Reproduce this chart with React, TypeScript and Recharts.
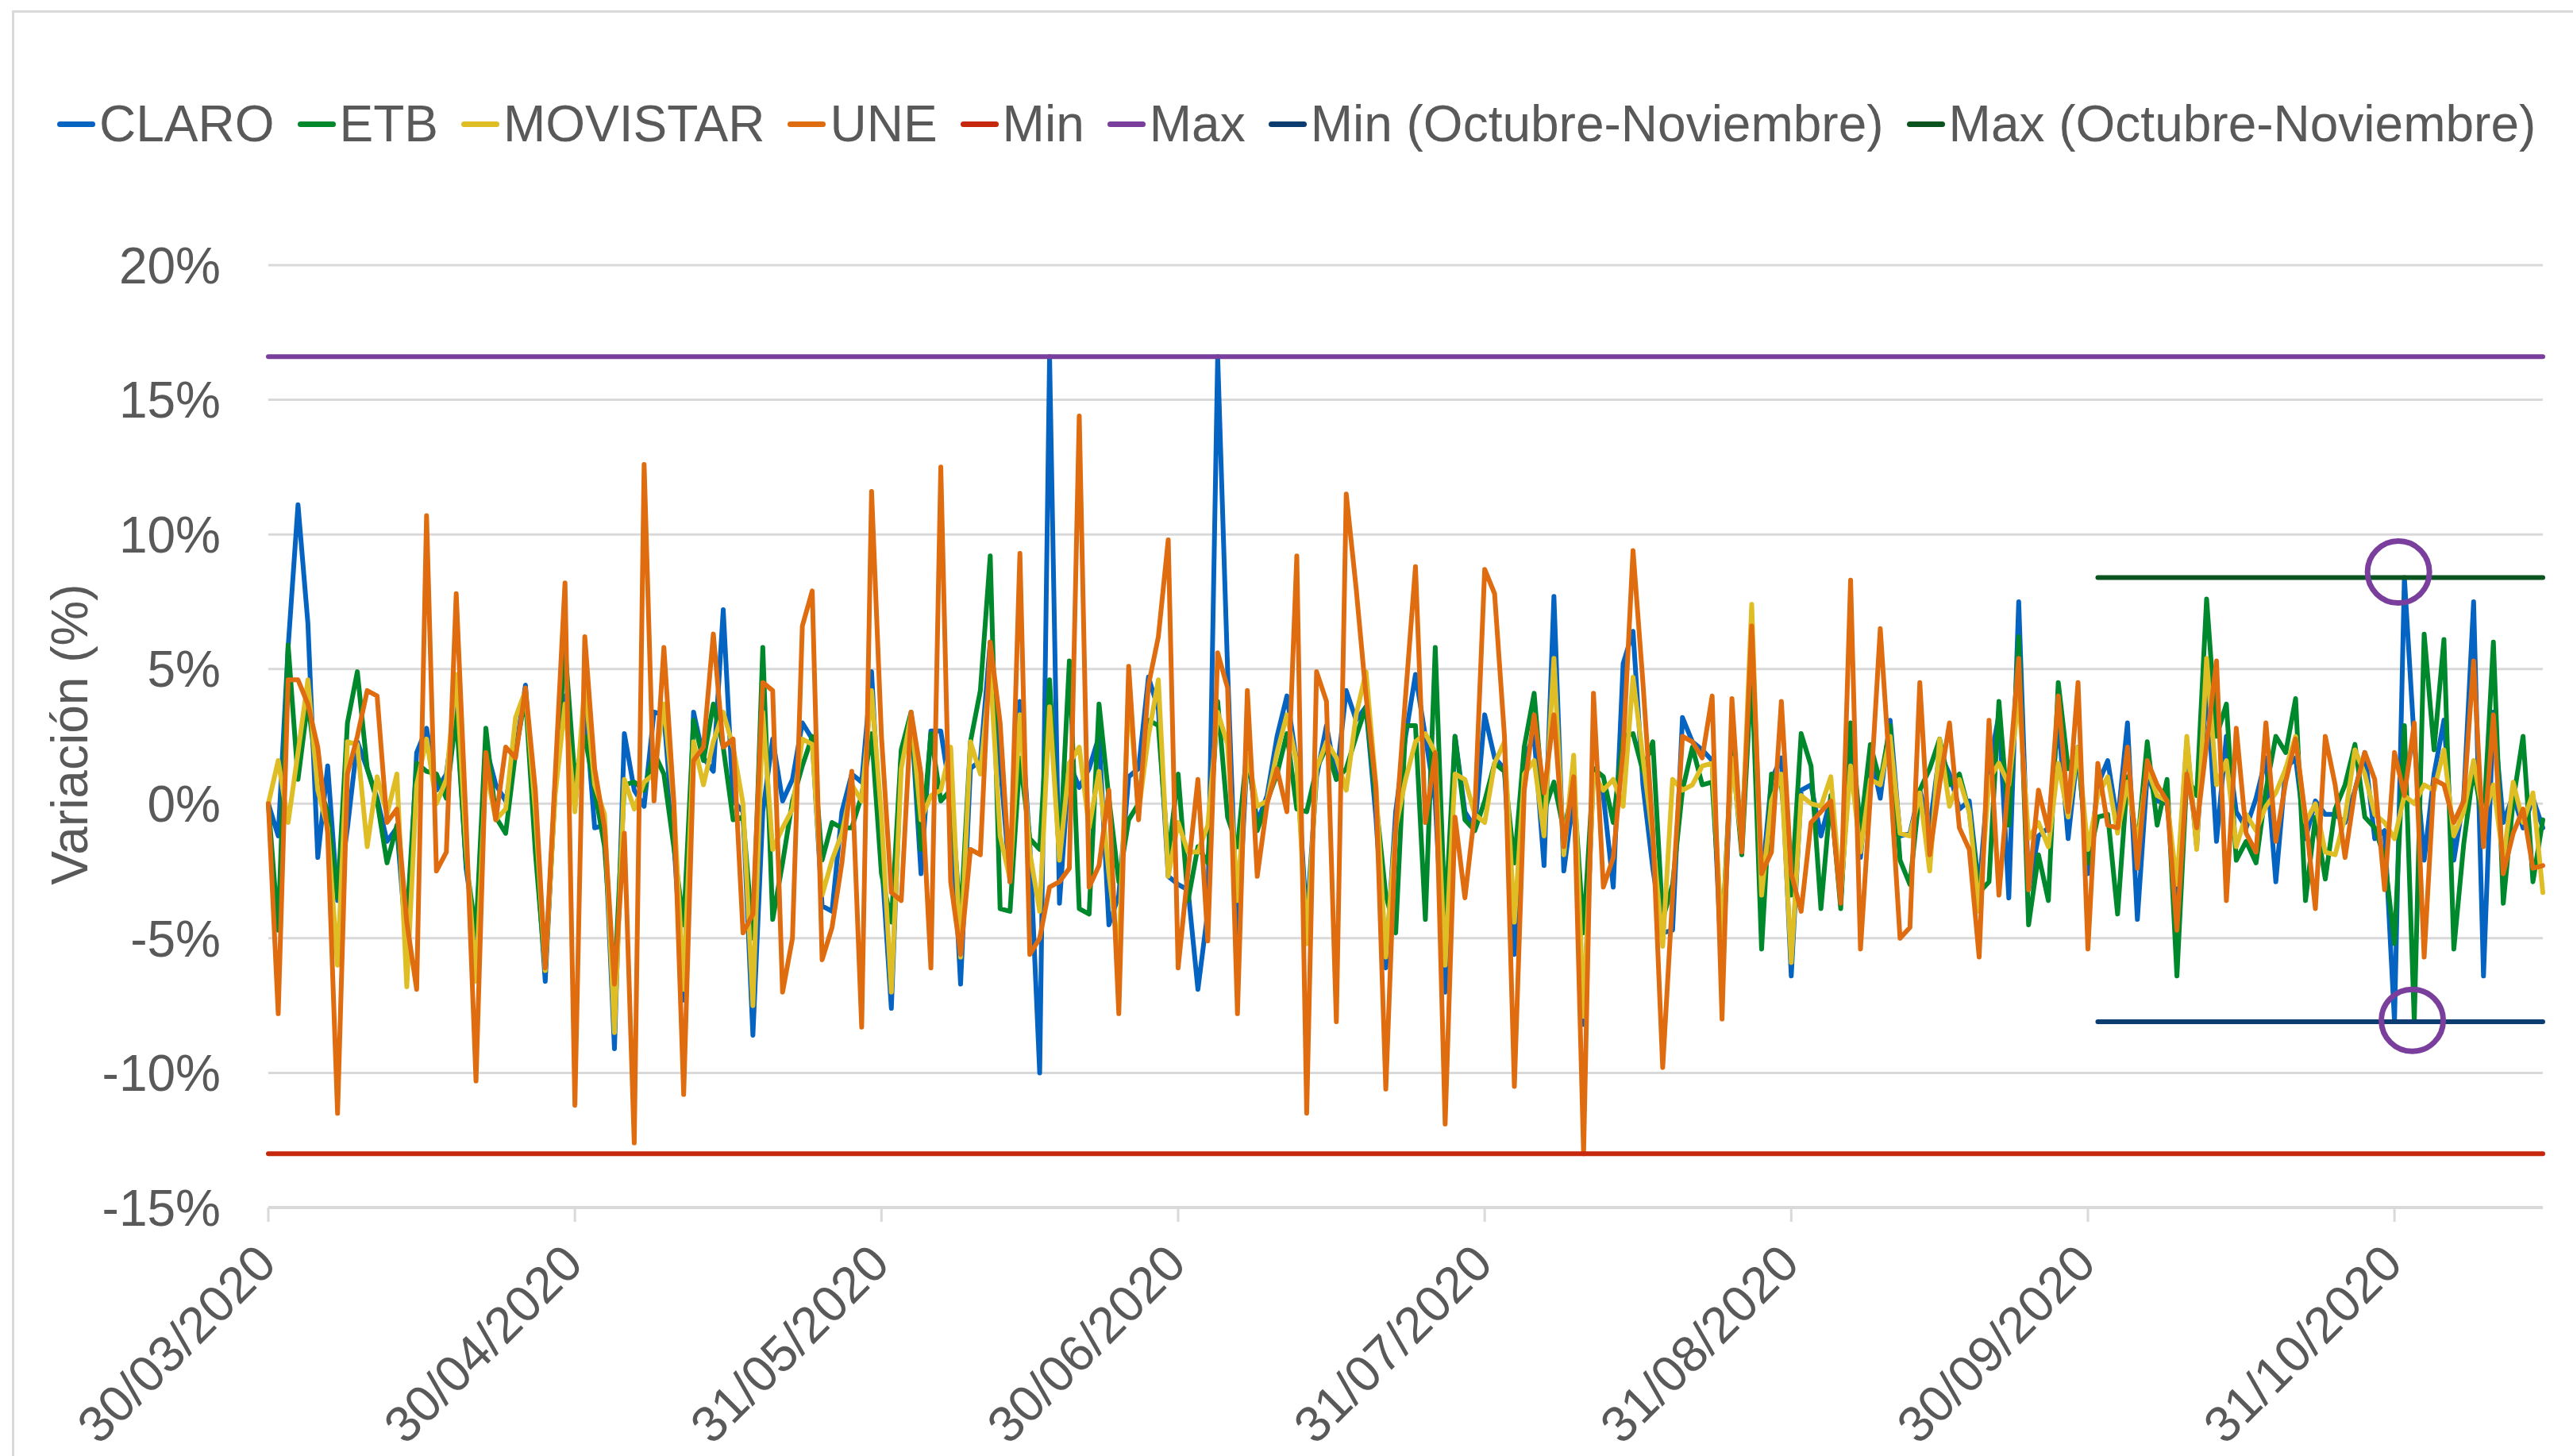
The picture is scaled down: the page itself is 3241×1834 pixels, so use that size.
import React from 'react';
import { LineChart, Line, XAxis, YAxis, CartesianGrid, Legend, ReferenceDot } from 'recharts';

const FONT = '"Liberation Sans", Arial, Helvetica, sans-serif';
const TEXT = '#595959';
const GRID = '#d9d9d9';

// x axis: one point per day starting 30/03/2020
const TICK_DAYS = [0, 31, 62, 92, 123, 154, 184, 215];
const TICK_LABELS = ['30/03/2020', '30/04/2020', '31/05/2020', '30/06/2020', '31/07/2020', '31/08/2020', '30/09/2020', '31/10/2020'];
const Y_TICKS = [-15, -10, -5, 0, 5, 10, 15, 20];

const CLARO = [
  0, -1.2, 5.8, 11.1, 6.7, -2.0, 1.4, -3.6, -0.9, 2.3,
  1.3, 0.2, -1.4, -0.9, -5.4, 1.9, 2.8, 0.5, 1.1, 3.8,
  -2.4, -5.0, 2.1, 0.7, 0.1, 1.9, 4.4, -1.1, -6.6, 0.7,
  4.0, -0.1, 3.8, -0.9, -0.8, -9.1, 2.6, 0.5, -0.1, 3.4,
  3.3, -1.3, -7.3, 3.4, 1.7, 1.2, 7.2, 0.1, -0.3, -8.6,
  -0.3, 2.4, 0.1, 0.9, 3.0, 2.4, -3.8, -4.0, -0.3, 1.1,
  0.8, 4.9, -2.0, -7.6, 1.9, 3.3, -2.6, 2.7, 2.7, 0.3,
  -6.7, 1.3, 1.6, 6.0, 1.5, -2.9, 3.8, -1.5, -10.0, 16.6,
  -3.7, 1.5, 0.6, 1.3, 2.5, -4.5, -3.4, 1.0, 1.3, 4.7,
  3.5, -2.7, -3.0, -3.2, -6.9, -4.0, 16.6, 5.0, -5.0, 1.9,
  -0.7, 0.3, 2.5, 4.0, 1.5, -4.4, 1.0, 2.9, 0.9, 4.2,
  3.1, 3.6, -0.5, -6.1, -0.3, 2.5, 4.8, 2.5, 0.1, -7.0,
  2.5, -0.3, -0.9, 3.3, 1.7, 1.3, -5.6, 1.7, 2.5, -2.3,
  7.7, -2.5, 0.3, -8.2, 1.3, 0.3, -3.1, 5.2, 6.4, 0.7,
  -2.4, -4.8, -4.7, 3.2, 2.3, 2.0, 1.6, -6.5, 2.1, -1.1,
  5.8, -3.0, 0.9, 1.7, -6.4, 0.5, 0.7, -1.2, 0.2, -3.6,
  2.1, -2.0, 1.9, 0.2, 3.1, -1.2, -1.1, 0.5, -0.9, 1.9,
  1.1, -0.2, 0.1, -3.2, 1.3, 3.3, -3.5, 7.5, -3.2, -1.2,
  -0.9, 3.1, -1.3, 2.1, -2.6, 0.7, 1.6, -0.7, 3.0, -4.3,
  1.1, 0.1, 0, -3.4, 2.3, -1.6, 4.6, -1.4, 2.5, -0.3,
  -0.9, 0.2, 1.7, -2.9, 1.3, 1.7, -1.3, 0.1, -0.4, -0.4,
  -0.7, 0.5, 1.9, -1.3, -1.0, -8.1, 8.4, 2.3, -2.1, 1.1,
  3.1, -2.1, 0.2, 7.5, -6.4, 3.4, -0.7, 0.3, -0.9, 0.2,
  -0.9,
];

const ETB = [
  0, -4.7, 5.9, 0.9, 3.8, 0.8, -0.3, -3.5, 3.0, 4.9,
  1.3, 0.1, -2.2, -0.8, -4.4, 1.5, 1.2, 1.1, 0.2, 3.3,
  -2.2, -4.8, 2.8, -0.5, -1.1, 1.9, 4.0, -1.8, -6.2, 0.5,
  5.8, 0.9, 2.5, 0.5, -1.6, -6.7, 0.7, 0.8, 0.5, 1.9,
  1.1, -1.6, -4.5, 3.1, 1.6, 3.7, 2.1, -0.6, -0.5, -5.0,
  5.8, -4.3, -2.2, 0.1, 1.4, 2.5, -2.1, -0.7, -0.9, -0.9,
  0.3, 2.6, -2.6, -4.4, 2.0, 3.4, -1.7, 2.6, 0.1, 0.5,
  -4.4, 2.3, 4.2, 9.2, -3.9, -4.0, 1.7, -1.3, -1.7, 4.6,
  -2.1, 5.3, -3.9, -4.1, 3.7, 0.2, -2.9, -0.6, 0, 3.1,
  2.9, -2.0, 1.1, -3.6, -1.6, -2.2, 3.8, -0.5, -1.6, 2.1,
  -1.0, 0.1, 1.1, 2.6, -0.2, -0.3, 1.3, 2.1, 0.9, 1.3,
  2.5, 3.6, 0.1, -3.4, -4.8, 2.9, 2.9, -4.3, 5.8, -4.4,
  2.5, -0.6, -1.0, 0.1, 1.5, 1.2, -2.2, 2.1, 4.1, -0.3,
  0.8, -1.0, 0.7, -4.8, 1.3, 1.0, -0.7, 2.5, 2.6, 1.2,
  2.3, -4.3, -3.0, 0.5, 2.1, 0.7, 0.8, -5.0, 2.1, -1.9,
  5.0, -5.4, 1.1, 0.7, -3.4, 2.6, 1.4, -3.9, 0.3, -3.9,
  3.0, -1.0, 2.2, 0.8, 2.9, -2.1, -3.0, 0.5, 1.3, 2.4,
  0.7, 1.1, -0.3, -3.3, -2.9, 3.8, -0.8, 6.2, -4.5, -1.9,
  -3.6, 4.5, 1.3, 1.9, -2.2, -0.5, -0.4, -4.1, 1.0, -1.6,
  2.3, -0.8, 0.9, -6.4, 1.0, 0.3, 7.6, 2.5, 3.7, -2.1,
  -1.4, -2.2, 0.5, 2.5, 1.9, 3.9, -3.6, -0.5, -2.8, -0.2,
  0.7, 2.2, -0.5, -0.9, -2.0, -5.2, 2.9, -8.1, 6.3, 2.0,
  6.1, -5.4, -1.5, 1.3, -0.8, 6.0, -3.7, 0.1, 2.5, -2.9,
  -0.6,
];

const MOVISTAR = [
  0, 1.6, -0.7, 1.9, 4.6, 0.5, -0.9, -6.0, 2.3, 2.2,
  -1.6, 1.0, -0.4, 1.1, -6.8, 0.7, 2.4, 0, 0.9, 4.8,
  -1.6, -6.6, 1.3, -0.6, -0.2, 3.2, 4.2, -0.3, -6.2, 0.3,
  3.7, -0.3, 4.4, 0.7, -0.4, -8.5, 0.9, -0.2, 0.8, 1.1,
  3.7, 0, -6.9, 2.3, 0.7, 2.3, 3.4, 2.1, 0, -7.5,
  3.4, -1.7, -0.9, -0.2, 2.4, 2.2, -3.4, -2.1, -1.1, 0.7,
  0.1, 4.2, -0.5, -7.0, 1.3, 3.3, -0.6, 0.3, 0.5, 2.1,
  -5.7, 2.3, 1.1, 5.0, -1.2, -2.8, 3.3, -1.8, -4.0, 3.6,
  -2.1, 1.5, 2.1, -0.9, 1.2, -2.6, -5.6, 4.2, -0.3, 2.5,
  4.6, -2.7, -0.7, -1.8, -1.8, -0.8, 3.4, 2.2, -3.6, 1.9,
  -0.1, 0.1, 1.9, 3.3, 1.5, -5.2, 1.3, 2.3, 1.7, 0.5,
  3.3, 4.9, 0.7, -5.7, -0.9, 0.9, 2.3, 2.6, 1.9, -6.0,
  1.1, 0.9, -0.4, -0.7, 1.5, 2.3, -4.4, 1.1, 1.6, -1.2,
  5.4, -1.9, 1.8, -7.9, 1.1, 0.5, 0.9, -0.1, 4.7, 1.7,
  -1.3, -5.3, 0.9, 0.5, 0.7, 1.4, 1.5, -5.0, 1.7, -1.5,
  7.4, -3.4, 0.1, 1.1, -5.9, 0.3, 0, -0.1, 1.0, -3.4,
  1.4, -1.8, 0.9, 0.7, 2.5, -1.1, -1.2, 0.4, -2.5, 2.4,
  -0.1, 0.9, -0.3, -4.0, 0.9, 1.5, 0.7, 4.0, -1.3, -0.7,
  -1.6, 1.5, -0.5, 2.1, -1.7, 0.3, 1.0, -1.1, 0.8, -1.5,
  1.3, 0.3, 0.1, -3.0, 2.5, -1.7, 5.4, 0.7, 1.6, -1.6,
  -0.4, -1.0, -0.1, 0.4, 1.3, 2.5, -0.7, 0, -1.8, -1.9,
  -0.5, 2.0, 1.1, -0.4, -0.7, -1.3, 0.3, 0, 0.7, 0.5,
  2.0, -1.2, -0.3, 1.6, -0.5, 0.7, -2.1, 0.8, -0.7, 0.4,
  -3.3,
];

const UNE = [
  0, -7.8, 4.6, 4.6, 3.7, 2.1, -1.1, -11.5, 1.1, 2.5,
  4.2, 4.0, -0.7, -0.2, -4.4, -6.9, 10.7, -2.5, -1.8, 7.8,
  -0.7, -10.3, 1.9, -0.6, 2.1, 1.7, 4.3, 0.5, -6.1, 1.0,
  8.2, -11.2, 6.2, 1.3, -0.9, -6.7, -1.1, -12.6, 12.6, 0.1,
  5.8, 0.1, -10.8, 1.6, 2.1, 6.3, 2.1, 2.4, -4.8, -4.1,
  4.5, 4.2, -7.0, -5.0, 6.6, 7.9, -5.8, -4.6, -2.2, 1.2,
  -8.3, 11.6, 2.5, -3.3, -3.6, 3.4, 1.1, -6.1, 12.5, -2.9,
  -5.6, -1.7, -1.9, 6.0, 3.0, -2.9, 9.3, -5.6, -5.0, -3.1,
  -2.9, -2.4, 14.4, -3.1, -2.3, 0.5, -7.8, 5.1, -0.6, 4.4,
  6.2, 9.8, -6.1, -2.5, 0.9, -5.1, 5.6, 4.3, -7.8, 4.2,
  -2.7, 0, 1.3, -0.3, 9.2, -11.5, 4.9, 3.8, -8.1, 11.5,
  8.0, 4.0, 0.6, -10.6, -0.9, 4.0, 8.8, -0.7, 1.9, -11.9,
  -0.5, -3.5, -0.3, 8.7, 7.8, 2.5, -10.5, 0.5, 3.3, 0.4,
  3.3, -1.6, 1.0, -13.0, 4.1, -3.1, -2.0, 2.0, 9.4, 4.5,
  -1.0, -9.8, -3.4, 2.5, 2.3, 1.7, 4.0, -8.0, 3.9, -1.8,
  6.6, -2.6, -1.8, 3.8, -2.6, -4.0, -0.7, -0.3, 0.1, -3.7,
  8.3, -5.4, 0.3, 6.5, 1.0, -5.0, -4.6, 4.5, -1.9, 0.7,
  3.0, -0.9, -1.7, -5.7, 3.1, -3.4, 1.0, 5.4, -3.2, 0.5,
  -1.0, 4.0, -0.3, 4.5, -5.4, 1.5, -0.8, -0.9, 2.1, -2.4,
  1.6, 0.7, 0.1, -4.7, 1.1, -0.9, 2.2, 5.3, -3.6, 2.8,
  -1.1, -1.8, 3.0, -1.4, 0.8, 2.4, -0.5, -3.9, 2.5, 0.7,
  -2.0, 0.5, 1.9, 0.9, -3.2, 1.9, 0.3, 3.0, -5.7, 0.9,
  0.7, -0.7, 0.1, 5.3, -1.6, 3.3, -2.6, -1.1, -0.2, -2.4,
  -2.3,
];

// reference levels
const MIN_ALL = -13.0;
const MAX_ALL = 16.6;
const MIN_OCT = -8.1;
const MAX_OCT = 8.4;
const OCT_START = 185;

// highlighted points (purple circles)
const CIRCLES = [
  { x: 215.4, y: 8.6 },
  { x: 216.8, y: -8.05 },
];

const SERIES = [
  { key: 'claro', name: 'CLARO', color: '#0563c1' },
  { key: 'etb', name: 'ETB', color: '#00892c' },
  { key: 'movistar', name: 'MOVISTAR', color: '#dfbd24' },
  { key: 'une', name: 'UNE', color: '#e06c10' },
  { key: 'min', name: 'Min', color: '#c5280c' },
  { key: 'max', name: 'Max', color: '#7a3f9d' },
  { key: 'minOct', name: 'Min (Octubre-Noviembre)', color: '#0b3d70' },
  { key: 'maxOct', name: 'Max (Octubre-Noviembre)', color: '#0b5420' },
];

const data = CLARO.map((v, i) => ({
  day: i,
  claro: v,
  etb: ETB[i],
  movistar: MOVISTAR[i],
  une: UNE[i],
  min: MIN_ALL,
  max: MAX_ALL,
  minOct: i >= OCT_START ? MIN_OCT : null,
  maxOct: i >= OCT_START ? MAX_OCT : null,
}));

const renderLegend = () => (
  <div style={{ display: 'flex', alignItems: 'center', height: 64, fontFamily: FONT, fontSize: 64, lineHeight: '64px', color: TEXT, whiteSpace: 'nowrap' }}>
    {SERIES.map((s, i) => (
      <div key={s.key} style={{ display: 'flex', alignItems: 'center', marginLeft: i === 0 ? 0 : 29 }}>
        <span style={{ display: 'inline-block', width: 48, height: 7, borderRadius: 4, background: s.color, marginRight: 5 }} />
        <span>{s.name}</span>
      </div>
    ))}
  </div>
);

const XTick = ({ x, y, payload }: any) => {
  const px = x + 13;
  const py = y + 56;
  const label = TICK_LABELS[TICK_DAYS.indexOf(payload.value)];
  return (
    <text x={px} y={py} transform={`rotate(-45 ${px} ${py})`} textAnchor="end" fill={TEXT} fontSize={64} fontFamily={FONT}>
      {label}
    </text>
  );
};

const YTitle = () => (
  <text transform="translate(110 925) rotate(-90)" textAnchor="middle" fill={TEXT} fontSize={64} fontFamily={FONT}>
    Variación (%)
  </text>
);

export default function App() {
  return (
    <div style={{ position: 'absolute', left: 0, top: 0, width: 3241, height: 1834, overflow: 'hidden', background: '#fff' }}>
      <div style={{ position: 'absolute', left: 15, top: 13, width: 3300, height: 1900, border: `3px solid ${GRID}`, boxSizing: 'border-box' }} />
      <LineChart width={3241} height={1834} data={data} margin={{ top: 334, right: 38, bottom: 0, left: 0 }}>
        <CartesianGrid vertical={false} stroke={GRID} strokeWidth={3} />
        <XAxis
          dataKey="day"
          type="number"
          domain={[0, 230]}
          ticks={TICK_DAYS}
          interval={0}
          height={313}
          tickSize={18}
          tickMargin={0}
          axisLine={{ stroke: GRID, strokeWidth: 4 }}
          tickLine={{ stroke: GRID, strokeWidth: 3 }}
          tick={<XTick />}
        />
        <YAxis
          type="number"
          domain={[-15, 20]}
          ticks={Y_TICKS}
          interval={0}
          width={338}
          axisLine={false}
          tickLine={false}
          tickSize={0}
          tickMargin={60}
          tickFormatter={(v: number) => `${v}%`}
          tick={{ fill: TEXT, fontSize: 64, fontFamily: FONT }}
          label={{ content: () => <YTitle /> }}
        />
        {SERIES.map((s) => (
          <Line
            key={s.key}
            type="linear"
            dataKey={s.key}
            name={s.name}
            stroke={s.color}
            strokeWidth={6}
            strokeLinejoin="round"
            strokeLinecap="round"
            dot={false}
            activeDot={false}
            connectNulls={false}
            isAnimationActive={false}
          />
        ))}
        {CIRCLES.map((c, i) => (
          <ReferenceDot key={i} x={c.x} y={c.y} r={39} fill="none" stroke="#7a3f9d" strokeWidth={7} ifOverflow="visible" />
        ))}
        <Legend
          verticalAlign="middle"
          align="center"
          layout="horizontal"
          content={renderLegend}
          wrapperStyle={{ top: 124, left: 72, width: 3160, height: 64 }}
        />
      </LineChart>
    </div>
  );
}
